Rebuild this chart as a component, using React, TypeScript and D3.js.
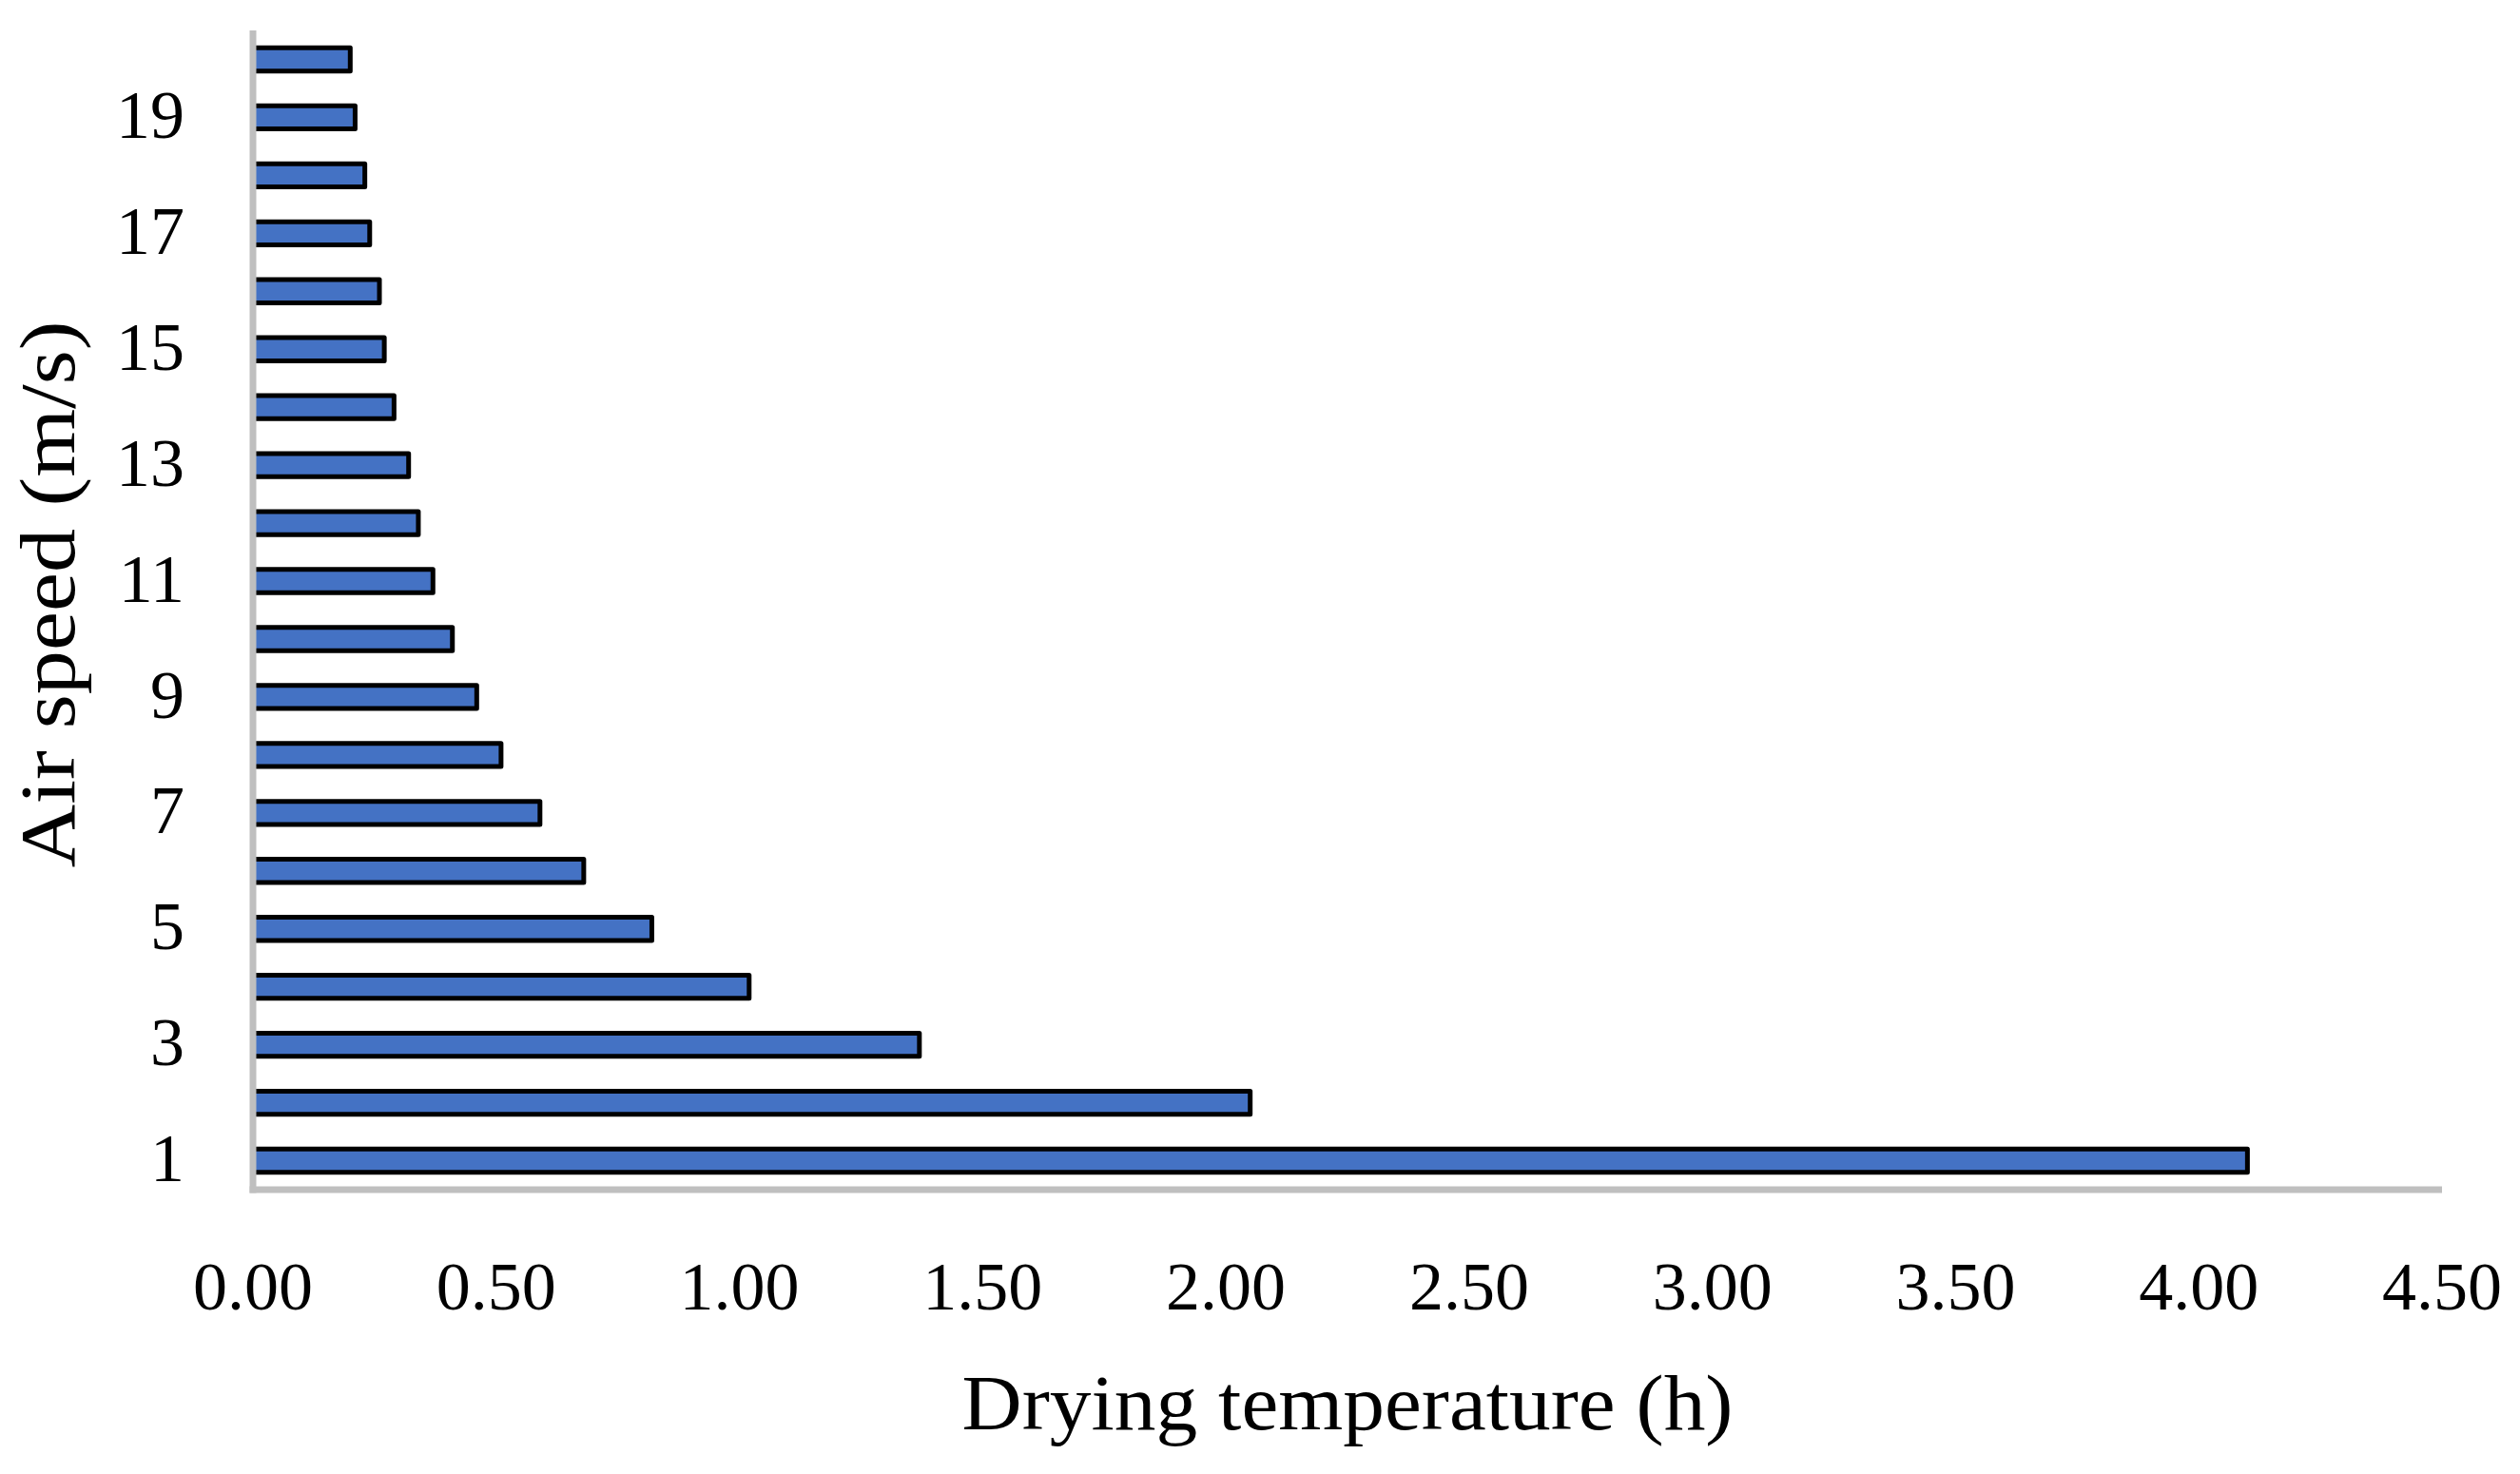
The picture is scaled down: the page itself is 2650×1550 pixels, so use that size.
import React from 'react'
import * as d3 from 'd3'

// air speed (m/s) on the band axis, drying time (h) on the value axis
const airSpeeds = [1, 2, 3, 4, 5, 6, 7, 8, 9, 10, 11, 12, 13, 14, 15, 16, 17, 18, 19, 20]
const dryingHours = [
  4.10, 2.05, 1.37, 1.02, 0.82, 0.68, 0.59, 0.51, 0.46, 0.41,
  0.37, 0.34, 0.32, 0.29, 0.27, 0.26, 0.24, 0.23, 0.21, 0.20,
]
const xTicks = [0, 0.5, 1, 1.5, 2, 2.5, 3, 3.5, 4, 4.5]
const yTickLabels = [1, 3, 5, 7, 9, 11, 13, 15, 17, 19]

const W = 2650
const H = 1550
const margin = { top: 32, right: 82, bottom: 299, left: 266 }
const FONT = '"Liberation Serif", "Times New Roman", serif'

const App = () => {
  const plotW = W - margin.left - margin.right
  const plotH = H - margin.top - margin.bottom

  const x = d3.scaleLinear().domain([0, 4.5]).range([0, plotW])
  const y = d3.scaleBand<number>()
    .domain([...airSpeeds].reverse())
    .range([0, plotH])
    .paddingInner(0.6)
    .paddingOuter(0.3)

  const data = airSpeeds.map((s, i) => ({ speed: s, hours: dryingHours[i] }))
  const axisColor = '#BFBFBF'

  return (
    <svg width={W} height={H} style={{ position: 'absolute', left: 0, top: 0, background: '#fff' }}>
      <g transform={`translate(${margin.left},${margin.top})`}>
        {data.map(d => (
          <rect
            key={d.speed}
            x={x(0)}
            y={y(d.speed)}
            width={x(d.hours) - x(0)}
            height={y.bandwidth()}
            fill="#4472C4"
            stroke="#000"
            strokeWidth={5}
            strokeLinejoin="round"
          />
        ))}

        {/* axis lines */}
        <line x1={0} x2={0} y1={0} y2={plotH + 3.5} stroke={axisColor} strokeWidth={7} />
        <line x1={-3.5} x2={plotW} y1={plotH} y2={plotH} stroke={axisColor} strokeWidth={7} />

        {yTickLabels.map(v => (
          <text
            key={v}
            x={-72}
            y={(y(v) ?? 0) + y.bandwidth() / 2}
            dy="0.3em"
            textAnchor="end"
            fontFamily={FONT}
            fontSize={72}
            fill="#000"
          >
            {v}
          </text>
        ))}

        {xTicks.map(v => (
          <text
            key={v}
            x={x(v)}
            y={plotH + 126}
            textAnchor="middle"
            fontFamily={FONT}
            fontSize={72}
            fill="#000"
          >
            {d3.format('.2f')(v)}
          </text>
        ))}

        <text
          x={plotW / 2}
          y={plotH + 252}
          textAnchor="middle"
          fontFamily={FONT}
          fontSize={82}
          textLength={811}
          lengthAdjust="spacingAndGlyphs"
          fill="#000"
        >
          Drying temperature (h)
        </text>

        <text
          transform={`translate(${78 - margin.left},${625 - margin.top}) rotate(-90)`}
          textAnchor="middle"
          fontFamily={FONT}
          fontSize={82}
          textLength={575}
          lengthAdjust="spacingAndGlyphs"
          fill="#000"
        >
          Air speed (m/s)
        </text>
      </g>
    </svg>
  )
}

export default App
